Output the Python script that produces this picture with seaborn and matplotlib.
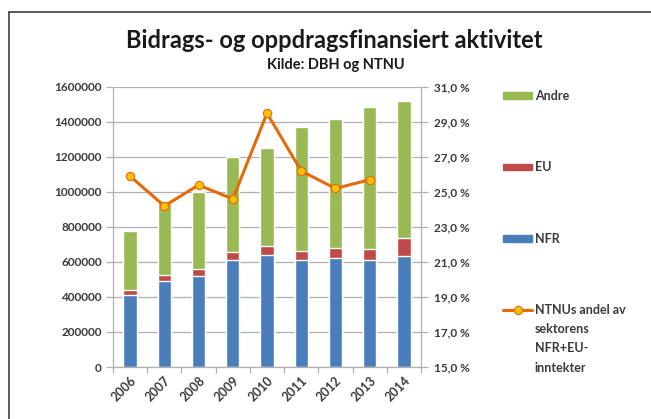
import numpy as np
import pandas as pd
import matplotlib
matplotlib.use("Agg")
import matplotlib.pyplot as plt
import matplotlib.ticker as mticker
from matplotlib.lines import Line2D
from matplotlib.patches import Patch
import seaborn as sns

# Values
years = ["2006", "2007", "2008", "2009", "2010", "2011", "2012", "2013", "2014"]
nfr = [414000, 493000, 521000, 609000, 638000, 609000, 620000, 609000, 636000]
eu = [27000, 32000, 40000, 48000, 55000, 55000, 62000, 65000, 103000]
andre = [336000, 426000, 441000, 542000, 559000, 709000, 735000, 810000, 779000]
share = [25.9, 24.2, 25.4, 24.6, 29.5, 26.2, 25.2, 25.7, np.nan]

left_ticks = [0, 200000, 400000, 600000, 800000, 1000000, 1200000, 1400000, 1600000]
right_ticks = [15, 17, 19, 21, 23, 25, 27, 29, 31]

c_nfr = "#4a7ebb"
c_eu = "#be4b48"
c_andre = "#98b954"
c_line = "#e36c0a"
c_marker = "#ffc000"
c_grid = "#b4aeae"
c_text = "#3a3a3a"

sns.set_theme(style="white")
plt.rcParams["font.family"] = ["Lato", "DejaVu Sans"]
plt.rcParams["font.weight"] = "bold"  # the Excel-rendered labels look heavy

df = pd.DataFrame({"year": years, "nfr": nfr, "eu": eu, "andre": andre, "share": share})
df["nfr_eu"] = df["nfr"] + df["eu"]
df["total"] = df["nfr_eu"] + df["andre"]

fig = plt.figure(figsize=(6.51, 4.19), dpi=100)
ax = fig.add_axes([0.1736, 0.1241, 0.4731, 0.6683])

# stacked bars: draw cumulative layers from back to front
sns.barplot(data=df, x="year", y="total", color=c_andre, width=0.39, saturation=1, ax=ax, zorder=2)
sns.barplot(data=df, x="year", y="nfr_eu", color=c_eu, width=0.39, saturation=1, ax=ax, zorder=2)
sns.barplot(data=df, x="year", y="nfr", color=c_nfr, width=0.39, saturation=1, ax=ax, zorder=2)

ax.set_xlim(-0.5, len(years) - 0.5)
ax.set_ylim(0, 1600000)
ax.set_yticks(left_ticks)
ax.yaxis.set_major_formatter(mticker.FuncFormatter(lambda v, p: f"{int(v)}"))
ax.grid(axis="y", color=c_grid, linewidth=0.9, zorder=0)
ax.set_axisbelow(True)
ax.set_xlabel("")
ax.set_ylabel("")
for side in ["left", "bottom"]:
    ax.spines[side].set_color(c_grid)
    ax.spines[side].set_linewidth(0.9)
ax.spines["top"].set_visible(False)
ax.spines["right"].set_visible(False)

ax.tick_params(axis="y", length=5, width=0.9, color=c_grid, pad=3, left=True,
               labelsize=8.5, labelcolor=c_text)
ax.tick_params(axis="x", which="major", length=0, pad=5, labelsize=9, labelcolor=c_text)
ax.set_xticks(np.arange(-0.5, len(years)), minor=True)
ax.tick_params(axis="x", which="minor", length=4, width=0.9, color=c_grid, bottom=True)
for lab in ax.get_xticklabels():
    lab.set_rotation(45)
    lab.set_ha("right")
    lab.set_rotation_mode("anchor")

# share line on the right axis
ax2 = ax.twinx()
sns.lineplot(x=np.arange(len(years)), y=df["share"], ax=ax2, color=c_line, linewidth=2.2,
             marker="o", markersize=6, markerfacecolor=c_marker, markeredgecolor=c_line,
             markeredgewidth=0.8, zorder=5)
ax2.set_ylim(15, 31)
ax2.set_yticks(right_ticks)
ax2.yaxis.set_major_formatter(mticker.FuncFormatter(lambda v, p: f"{v:.1f}".replace(".", ",") + " %"))
ax2.set_ylabel("")
ax2.grid(False)
for side in ["left", "top", "bottom"]:
    ax2.spines[side].set_visible(False)
ax2.spines["right"].set_color(c_grid)
ax2.spines["right"].set_linewidth(0.9)
ax2.tick_params(axis="y", length=5, width=0.9, color=c_grid, pad=4, right=True,
                labelsize=8.5, labelcolor=c_text)

# titles
fig.text(0.513, 1 - 40 / 419, "Bidrags- og oppdragsfinansiert aktivitet", ha="center", va="center",
         fontsize=17, fontweight="bold", color="#1a1a1a")
fig.text(0.516, 1 - 65 / 419, "Kilde: DBH og NTNU", ha="center", va="center",
         fontsize=10.5, fontweight="bold", color="#1a1a1a")

# legend
handles = [
    Patch(color=c_andre),
    Patch(color=c_eu),
    Patch(color=c_nfr),
    Line2D([], [], color=c_line, linewidth=2.2, marker="o", markersize=6,
           markerfacecolor=c_marker, markeredgecolor=c_line, markeredgewidth=0.8),
]
labels = ["Andre", "EU", "NFR", "NTNUs andel av"]
leg = fig.legend(handles, labels, loc="upper left", bbox_to_anchor=(503 / 651, 1 - 90 / 419),
                 frameon=False, fontsize=9, labelspacing=4.75, handlelength=2.35,
                 handleheight=0.42, handletextpad=0.2, borderaxespad=0, borderpad=0)
for t in leg.get_texts():
    t.set_color(c_text)

# remaining lines of the last legend label, placed under its first line
fig.canvas.draw()
bb = leg.get_texts()[-1].get_window_extent().transformed(fig.transFigure.inverted())
fig.text(bb.x0, bb.y0 - 0.016, "sektorens\nNFR+EU-\ninntekter", ha="left", va="top",
         fontsize=9, color=c_text, linespacing=1.75)

# outer frame (top and left edges visible in the crop)
fig.add_artist(Line2D([9 / 651, 1], [1 - 12 / 419, 1 - 12 / 419], transform=fig.transFigure,
                      color="#404040", linewidth=1.2))
fig.add_artist(Line2D([9 / 651, 9 / 651], [0, 1 - 12 / 419], transform=fig.transFigure,
                      color="#404040", linewidth=1.2))

fig.savefig("out.png", dpi=100, facecolor="white")
